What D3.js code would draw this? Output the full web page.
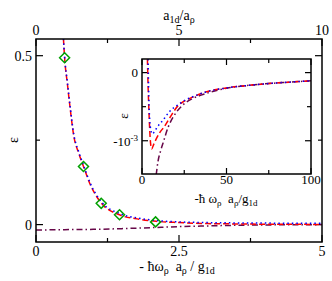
<!DOCTYPE html>
<html>
<head>
<meta charset="utf-8">
<script src="https://cdn.jsdelivr.net/npm/d3@7"></script>
<style>
  body { margin: 0; background: #fff; }
  svg text { white-space: pre; }
</style>
</head>
<body>
<script>

const svgWidth = 332;
const svgHeight = 281;

// Data: main panel (x = -hbar w a / g1d)
var mainX = [0.48, 0.50, 0.55, 0.60, 0.66, 0.75, 0.83, 0.95, 1.14, 1.46, 1.8, 2.1, 2.5, 3.0, 3.5, 4.0, 4.5, 5.0];
var mainRed = [0.55, 0.494, 0.415, 0.34, 0.263, 0.21, 0.172, 0.118, 0.064, 0.029, 0.016, 0.0098, 0.006, 0.003, 0.002, 0.0012, 0.0008, 0.0005];
var mainBlue = [0.55, 0.497, 0.42, 0.345, 0.268, 0.214, 0.176, 0.122, 0.068, 0.033, 0.019, 0.012, 0.008, 0.006, 0.005, 0.0045, 0.004, 0.004];
var mainPurpleX = [0, 0.5, 1, 1.5, 2, 2.5, 3, 3.5, 4, 4.5, 5];
var mainPurple = [-0.016, -0.015, -0.014, -0.012, -0.009, -0.006, -0.004, -0.002, -0.001, -0.0005, 0];
var diamondX = [0.50, 0.83, 1.14, 1.46, 2.09];
var diamondY = [0.494, 0.172, 0.063, 0.029, 0.008];

// Data: inset (epsilon in units of 1e-3)
var insetRedX = [3.2, 3.6, 4.0, 4.4, 4.8, 5.7, 7, 8.5, 10.5, 13, 17.5, 21.5, 25, 30, 37, 50, 62, 75, 87, 100];
var insetRed = [0.2, -0.2, -0.5, -0.75, -0.95, -1.12, -1.05, -0.97, -0.88, -0.8, -0.62, -0.48, -0.42, -0.36, -0.29, -0.225, -0.19, -0.16, -0.14, -0.12];
var insetBlueX = [3.6, 3.9, 4.2, 4.6, 5.2, 6.2, 7.5, 9, 11, 13, 16, 19, 22, 25, 30, 37, 50, 62, 75, 87, 100];
var insetBlue = [0.2, -0.2, -0.5, -0.7, -0.84, -0.9, -0.86, -0.8, -0.74, -0.68, -0.58, -0.51, -0.46, -0.41, -0.355, -0.29, -0.225, -0.19, -0.16, -0.14, -0.12];
var insetPurpleX = [8.4, 9.5, 11, 12.5, 15.5, 19, 24, 30, 35, 40, 50, 62, 75, 87, 100];
var insetPurple = [-1.5, -1.3, -1.15, -1.03, -0.8, -0.63, -0.48, -0.38, -0.33, -0.29, -0.23, -0.19, -0.16, -0.14, -0.12];

// tick labels
var mainXTicks = [0, 2.5, 5];
var mainYTicks = [0, 0.5];
var topTicks = [0, 5, 10];
var insetXTicks = [0, 50, 100];

const red = "#ff0000", blue = "#0000ff", purple = "#670748", green = "#00a000";

const svg = d3.select("body")
   .append("svg")
   .attr("width", svgWidth)
   .attr("height", svgHeight)
   .attr("font-family", "Liberation Serif");

// main frame
const main = { left: 36, right: 322, top: 39, bottom: 242 };

const xScale = d3.scaleLinear().domain([0, 5]).range([main.left, main.right]);
const xTopScale = d3.scaleLinear().domain([0, 10]).range([main.left, main.right]);
const yScale = d3.scaleLinear().domain([-0.0515, 0.5494]).range([main.bottom, main.top]);

svg.append("clipPath").attr("id", "clipMain")
   .append("rect")
   .attr("x", main.left).attr("y", main.top)
   .attr("width", main.right - main.left).attr("height", main.bottom - main.top);

// tick marks, pointing inward
function ticksX(scale, vals, y, dir, len) {
    vals.forEach(v => {
        svg.append("line")
            .attr("x1", scale(v)).attr("x2", scale(v))
            .attr("y1", y).attr("y2", y + dir * len)
            .attr("stroke", "#000").attr("stroke-width", 1.2);
    });
}
function ticksY(scale, vals, x, dir, len) {
    vals.forEach(v => {
        svg.append("line")
            .attr("y1", scale(v)).attr("y2", scale(v))
            .attr("x1", x).attr("x2", x + dir * len)
            .attr("stroke", "#000").attr("stroke-width", 1.2);
    });
}

ticksX(xScale, mainXTicks, main.bottom, -1, 7);
ticksX(xScale, [1.25, 3.75], main.bottom, -1, 4);
ticksX(xTopScale, topTicks, main.top, 1, 7);
ticksX(xTopScale, [2.5, 7.5], main.top, 1, 4);
ticksY(yScale, mainYTicks, main.left, 1, 7);
ticksY(yScale, [0.25], main.left, 1, 4);
ticksY(yScale, mainYTicks, main.right, -1, 7);
ticksY(yScale, [0.25], main.right, -1, 4);

// main curves
const gMain = svg.append("g").attr("clip-path", "url(#clipMain)");

function drawLine(g, xs, ys, xs_, ys_, color, dash) {
    const line = d3.line()
        .x((d, i) => xs_(xs[i]))
        .y(d => ys_(d))
        .curve(d3.curveMonotoneX);
    g.append("path")
        .attr("d", line(ys))
        .attr("fill", "none")
        .attr("stroke", color)
        .attr("stroke-width", 1.5)
        .attr("stroke-dasharray", dash);
}

drawLine(gMain, mainPurpleX, mainPurple, xScale, yScale, purple, "6,3,1.5,3");
drawLine(gMain, mainX, mainRed, xScale, yScale, red, "6,3");
drawLine(gMain, mainX, mainBlue, xScale, yScale, blue, "1.5,3");

// diamonds
gMain.selectAll(".diamond")
    .data(diamondY)
    .enter()
    .append("path")
    .attr("class", "diamond")
    .attr("transform", (d, i) => `translate(${xScale(diamondX[i])},${yScale(d)})`)
    .attr("d", "M0,-5 L5,0 L0,5 L-5,0 Z")
    .attr("fill", "none")
    .attr("stroke", green)
    .attr("stroke-width", 1.5);

svg.append("rect")
    .attr("x", main.left).attr("y", main.top)
    .attr("width", main.right - main.left).attr("height", main.bottom - main.top)
    .attr("fill", "none").attr("stroke", "#000").attr("stroke-width", 1.5);

// main tick labels
svg.selectAll(".xlab").data(mainXTicks).enter().append("text")
    .attr("x", d => xScale(d)).attr("y", 256)
    .attr("text-anchor", "middle").style("font-size", "14px")
    .text(d => d);
svg.selectAll(".toplab").data(topTicks).enter().append("text")
    .attr("x", d => xTopScale(d)).attr("y", 35)
    .attr("text-anchor", "middle").style("font-size", "14px")
    .text(d => d);
svg.selectAll(".ylab").data(mainYTicks).enter().append("text")
    .attr("x", 32).attr("y", d => yScale(d) + 5)
    .attr("text-anchor", "end").style("font-size", "14px")
    .text(d => d);

// axis titles
const bottomTitle = svg.append("text")
    .attr("x", 177).attr("y", 271)
    .attr("text-anchor", "middle").style("font-size", "14px");
bottomTitle.append("tspan").text("- ħω");
bottomTitle.append("tspan").attr("baseline-shift", "-30%").style("font-size", "10px").text("ρ");
bottomTitle.append("tspan").text("  a");
bottomTitle.append("tspan").attr("baseline-shift", "-30%").style("font-size", "10px").text("ρ");
bottomTitle.append("tspan").text(" / g");
bottomTitle.append("tspan").attr("baseline-shift", "-30%").style("font-size", "10px").text("1d");

const topTitle = svg.append("text")
    .attr("x", 179).attr("y", 20)
    .attr("text-anchor", "middle").style("font-size", "14px");
topTitle.append("tspan").text("a");
topTitle.append("tspan").attr("baseline-shift", "-30%").style("font-size", "10px").text("1d");
topTitle.append("tspan").text("/a");
topTitle.append("tspan").attr("baseline-shift", "-30%").style("font-size", "10px").text("ρ");

svg.append("text")
    .attr("transform", "translate(18,140) rotate(-90)")
    .attr("text-anchor", "middle").style("font-size", "14px")
    .text("ε");

// inset
const inset = { left: 142, right: 311, top: 59, bottom: 174 };
const ixScale = d3.scaleLinear().domain([0, 100]).range([inset.left, inset.right]);
const iyScale = d3.scaleLinear().domain([-1.5, 0.2]).range([inset.bottom + 0.8, inset.top]);

svg.append("rect")
    .attr("x", inset.left).attr("y", inset.top)
    .attr("width", inset.right - inset.left).attr("height", inset.bottom - inset.top)
    .attr("fill", "#fff");

svg.append("clipPath").attr("id", "clipInset")
   .append("rect")
   .attr("x", inset.left).attr("y", inset.top)
   .attr("width", inset.right - inset.left).attr("height", inset.bottom - inset.top);

ticksX(ixScale, insetXTicks, inset.bottom, -1, 6);
ticksX(ixScale, [25, 75], inset.bottom, -1, 4);
ticksX(ixScale, insetXTicks, inset.top, 1, 6);
ticksX(ixScale, [25, 75], inset.top, 1, 4);
ticksY(iyScale, [0, -1], inset.left, 1, 6);
ticksY(iyScale, [-0.5], inset.left, 1, 4);
ticksY(iyScale, [0, -1], inset.right, -1, 6);
ticksY(iyScale, [-0.5], inset.right, -1, 4);

const gInset = svg.append("g").attr("clip-path", "url(#clipInset)");
drawLine(gInset, insetPurpleX, insetPurple, ixScale, iyScale, purple, "6,3,1.5,3");
drawLine(gInset, insetRedX, insetRed, ixScale, iyScale, red, "6,3");
drawLine(gInset, insetBlueX, insetBlue, ixScale, iyScale, blue, "1.5,3");

svg.append("rect")
    .attr("x", inset.left).attr("y", inset.top)
    .attr("width", inset.right - inset.left).attr("height", inset.bottom - inset.top)
    .attr("fill", "none").attr("stroke", "#000").attr("stroke-width", 1.5);

svg.selectAll(".ixlab").data(insetXTicks).enter().append("text")
    .attr("x", d => ixScale(d)).attr("y", 184)
    .attr("text-anchor", "middle").style("font-size", "13px")
    .text(d => d);

svg.append("text")
    .attr("x", 138).attr("y", iyScale(0) + 4.5)
    .attr("text-anchor", "end").style("font-size", "13px")
    .text("0");
const tenLabel = svg.append("text")
    .attr("x", 138).attr("y", iyScale(-1) + 5)
    .attr("text-anchor", "end").style("font-size", "13px");
tenLabel.append("tspan").text("-10");
tenLabel.append("tspan").attr("baseline-shift", "super").style("font-size", "9px").text("-3");

svg.append("text")
    .attr("transform", "translate(128,116) rotate(-90)")
    .attr("text-anchor", "middle").style("font-size", "13px")
    .text("ε");

const insetTitle = svg.append("text")
    .attr("x", 226).attr("y", 203)
    .attr("text-anchor", "middle").style("font-size", "13px");
insetTitle.append("tspan").text("-ħ ω");
insetTitle.append("tspan").attr("baseline-shift", "-30%").style("font-size", "9px").text("ρ");
insetTitle.append("tspan").text("  a");
insetTitle.append("tspan").attr("baseline-shift", "-30%").style("font-size", "9px").text("ρ");
insetTitle.append("tspan").text("/g");
insetTitle.append("tspan").attr("baseline-shift", "-30%").style("font-size", "9px").text("1d");

</script>
</body>
</html>
